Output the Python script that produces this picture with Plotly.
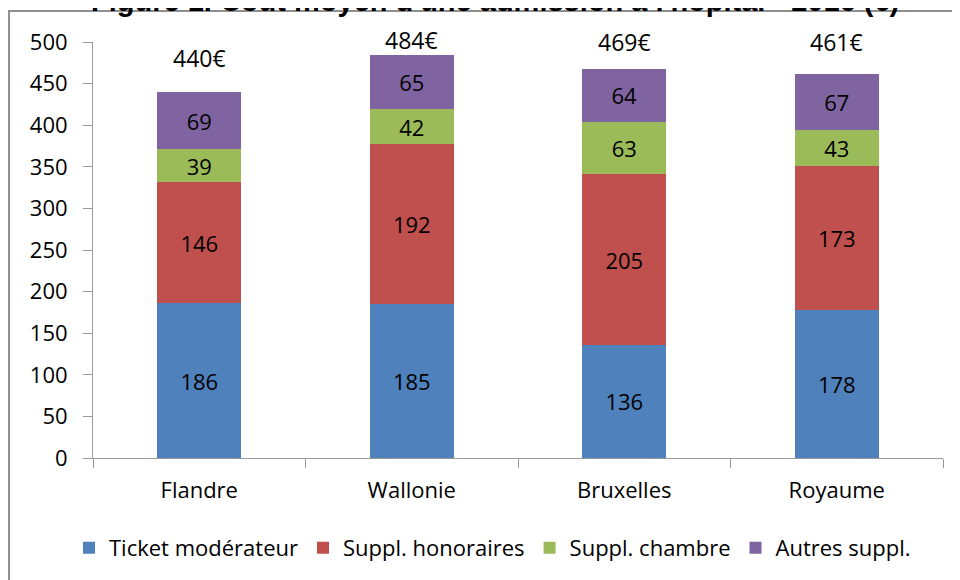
import plotly.graph_objects as go

categories = ["Flandre", "Wallonie", "Bruxelles", "Royaume"]
ticket_moderateur = [186, 185, 136, 178]
suppl_honoraires = [146, 192, 205, 173]
suppl_chambre = [39, 42, 63, 43]
autres_suppl = [69, 65, 64, 67]
totals = [440, 484, 469, 461]
total_label_y = [481, 502, 500, 500]

series = [
    ("Ticket modérateur", ticket_moderateur, "#4F81BD"),
    ("Suppl. honoraires", suppl_honoraires, "#C0504D"),
    ("Suppl. chambre", suppl_chambre, "#9BBB59"),
    ("Autres suppl.", autres_suppl, "#8064A2"),
]

FONT = "Open Sans"
Y_MAX = 500
fig = go.Figure()
for name, vals, col in series:
    fig.add_trace(go.Bar(
        x=categories, y=vals, name=name,
        marker=dict(color=col, line=dict(width=0)),
        text=[str(v) for v in vals], textposition="inside",
        insidetextanchor="middle", textangle=0,
        textfont=dict(family=FONT, size=22, color="#000000"),
    ))

for c, t, ly in zip(categories, totals, total_label_y):
    fig.add_annotation(x=c, xref="x", y=ly / Y_MAX, yref="paper", text=f"{t}€",
                       showarrow=False,
                       font=dict(family=FONT, size=23, color="#000000"),
                       xanchor="center", yanchor="middle")

# title (partially cut at the top in the reference)
fig.add_annotation(xref="paper", yref="paper", x=0.473, y=1.0, yshift=23,
                   text="<b>Figure 1. Coût moyen d'une admission à l'hôpital - 2016 (€)</b>",
                   showarrow=False, xanchor="center", yanchor="bottom",
                   font=dict(family="Liberation Sans, Arial", size=29, color="#000000"))

# outer chart frame
fig.add_shape(type="rect", xref="paper", yref="paper",
              x0=-0.0988, x1=1.2, y0=-0.5, y1=1.0745,
              line=dict(color="#8f8f8f", width=2), fillcolor="rgba(0,0,0,0)", layer="below")

fig.update_layout(
    width=960, height=580,
    margin=dict(l=85, r=25, t=34, b=130, autoexpand=False),
    barmode="stack", bargap=0.605,
    plot_bgcolor="white", paper_bgcolor="white",
    uniformtext=dict(minsize=22, mode="show"),
    font=dict(family=FONT, size=22, color="#000000"),
    showlegend=True,
    legend=dict(orientation="h", x=0.47, xanchor="center", y=-0.216, yanchor="middle",
                font=dict(family=FONT, size=22, color="#000000"), traceorder="normal",
                itemwidth=30),
    xaxis=dict(showline=True, linecolor="#9a9a9a", linewidth=1, ticks="outside",
               tickson="boundaries", ticklen=9, tickcolor="#9a9a9a", showgrid=False,
               ticklabelstandoff=13, automargin=False,
               tickfont=dict(family=FONT, size=22), fixedrange=True),
    yaxis=dict(range=[0, Y_MAX], dtick=50, showline=True, linecolor="#9a9a9a", linewidth=1,
               ticks="outside", ticklen=9, tickcolor="#9a9a9a", showgrid=False,
               ticklabelstandoff=11, automargin=False,
               zeroline=False, tickfont=dict(family=FONT, size=22), fixedrange=True),
)

fig.write_html("out.html")
